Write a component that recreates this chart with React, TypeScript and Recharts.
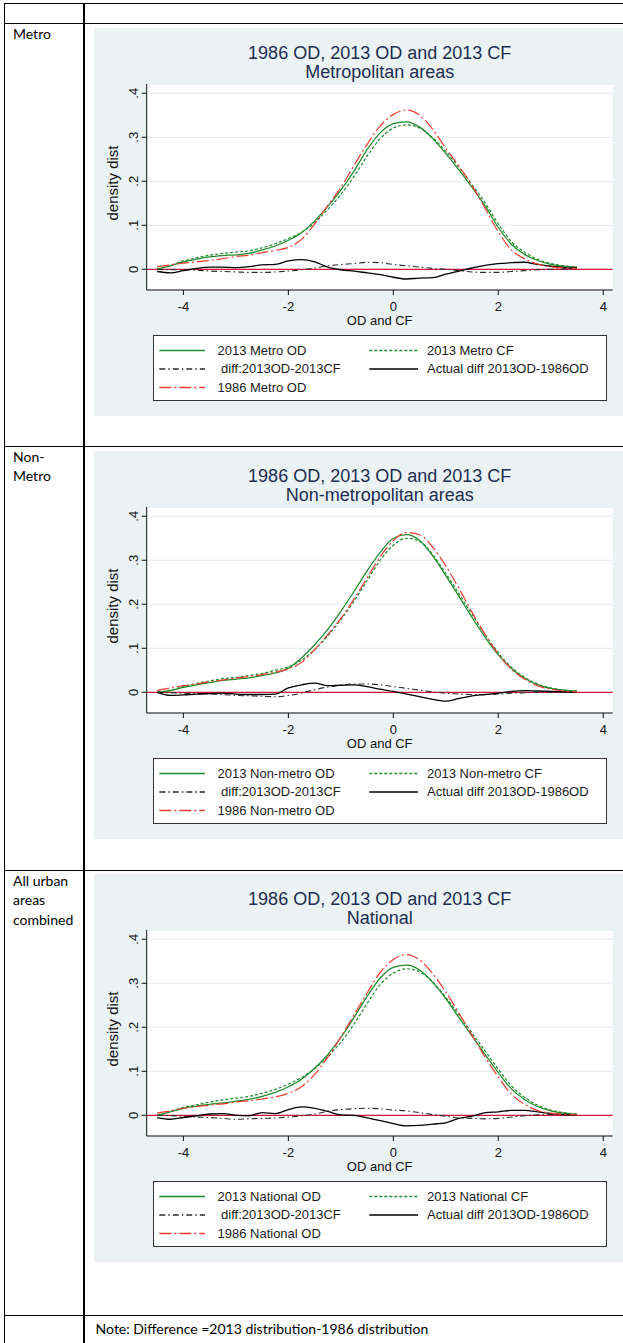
import React from 'react';
import { LineChart, Line, XAxis, YAxis, CartesianGrid, ReferenceLine } from 'recharts';

// ---------- data ----------
const xGrid = [-4.5, -4.25, -4, -3.75, -3.5, -3.25, -3, -2.75, -2.5, -2.25, -2, -1.75, -1.5, -1.25, -1, -0.75, -0.5, -0.25, 0, 0.25, 0.5, 0.75, 1, 1.25, 1.5, 1.75, 2, 2.25, 2.5, 2.75, 3, 3.25, 3.5];

const xTicks = [-4, -2, 0, 2, 4];
const yTicks = [0, 0.1, 0.2, 0.3, 0.4];

const metroOD = [0.001, 0.008, 0.017, 0.023, 0.028, 0.031, 0.033, 0.036, 0.044, 0.053, 0.066, 0.083, 0.110, 0.143, 0.180, 0.223, 0.272, 0.310, 0.331, 0.335, 0.323, 0.297, 0.263, 0.226, 0.186, 0.144, 0.095, 0.057, 0.034, 0.020, 0.011, 0.007, 0.005];
const metroCF = [0.000, 0.009, 0.019, 0.026, 0.032, 0.036, 0.039, 0.042, 0.049, 0.058, 0.070, 0.084, 0.106, 0.136, 0.170, 0.211, 0.257, 0.297, 0.321, 0.328, 0.321, 0.299, 0.268, 0.232, 0.192, 0.151, 0.103, 0.063, 0.039, 0.023, 0.013, 0.008, 0.005];
const metroDiffCF = [0.000, -0.001, -0.001, -0.002, -0.004, -0.005, -0.006, -0.007, -0.007, -0.006, -0.004, -0.001, 0.003, 0.008, 0.011, 0.013, 0.016, 0.015, 0.011, 0.008, 0.005, 0.002, 0.000, -0.003, -0.006, -0.007, -0.007, -0.005, -0.003, -0.001, 0.000, 0.001, 0.001];
const metroDiffActual = [-0.005, -0.008, -0.003, 0.002, 0.005, 0.005, 0.004, 0.006, 0.010, 0.011, 0.019, 0.022, 0.017, 0.005, -0.001, -0.004, -0.008, -0.012, -0.018, -0.022, -0.020, -0.019, -0.011, -0.004, 0.003, 0.009, 0.013, 0.015, 0.016, 0.011, 0.007, 0.004, 0.003];
const metro1986 = [0.006, 0.010, 0.014, 0.017, 0.020, 0.024, 0.029, 0.032, 0.038, 0.043, 0.050, 0.068, 0.103, 0.145, 0.186, 0.236, 0.284, 0.326, 0.352, 0.362, 0.350, 0.318, 0.275, 0.234, 0.190, 0.138, 0.085, 0.044, 0.024, 0.012, 0.006, 0.003, 0.002];

const nonOD = [0.000, 0.004, 0.011, 0.017, 0.022, 0.027, 0.030, 0.033, 0.038, 0.044, 0.055, 0.078, 0.108, 0.143, 0.184, 0.229, 0.276, 0.318, 0.350, 0.358, 0.345, 0.310, 0.265, 0.218, 0.170, 0.125, 0.085, 0.054, 0.032, 0.017, 0.009, 0.005, 0.003];
const nonCF = [0.000, 0.005, 0.013, 0.020, 0.026, 0.031, 0.034, 0.038, 0.043, 0.050, 0.058, 0.073, 0.097, 0.128, 0.165, 0.207, 0.254, 0.300, 0.334, 0.350, 0.343, 0.313, 0.270, 0.224, 0.177, 0.131, 0.090, 0.057, 0.034, 0.019, 0.010, 0.005, 0.003];
const nonDiffCF = [0.000, -0.001, -0.002, -0.003, -0.004, -0.005, -0.007, -0.008, -0.009, -0.010, -0.007, -0.002, 0.006, 0.012, 0.016, 0.019, 0.019, 0.017, 0.013, 0.009, 0.005, 0.001, -0.002, -0.004, -0.005, -0.005, -0.004, -0.002, -0.001, 0.000, 0.000, 0.000, 0.000];
const nonDiffActual = [0.000, -0.007, -0.006, -0.004, -0.003, -0.002, -0.004, -0.005, -0.005, -0.004, 0.010, 0.017, 0.021, 0.015, 0.016, 0.017, 0.013, 0.007, 0.002, -0.004, -0.010, -0.016, -0.020, -0.014, -0.008, -0.005, -0.002, 0.002, 0.004, 0.003, 0.002, 0.001, 0.000];
const non1986 = [0.004, 0.010, 0.015, 0.019, 0.024, 0.028, 0.032, 0.036, 0.040, 0.046, 0.053, 0.068, 0.097, 0.131, 0.168, 0.212, 0.260, 0.308, 0.345, 0.363, 0.358, 0.330, 0.287, 0.236, 0.182, 0.131, 0.087, 0.053, 0.030, 0.015, 0.007, 0.003, 0.001];

const natOD = [0.000, 0.008, 0.016, 0.021, 0.025, 0.028, 0.032, 0.036, 0.043, 0.052, 0.065, 0.082, 0.107, 0.138, 0.177, 0.222, 0.270, 0.312, 0.336, 0.341, 0.330, 0.302, 0.265, 0.222, 0.180, 0.138, 0.097, 0.060, 0.036, 0.020, 0.010, 0.005, 0.002];
const natCF = [0.000, 0.009, 0.018, 0.024, 0.030, 0.035, 0.039, 0.043, 0.050, 0.059, 0.071, 0.086, 0.106, 0.133, 0.166, 0.207, 0.254, 0.297, 0.323, 0.333, 0.326, 0.303, 0.268, 0.228, 0.187, 0.146, 0.105, 0.067, 0.041, 0.023, 0.012, 0.006, 0.003];
const natDiffCF = [0.000, -0.001, -0.002, -0.004, -0.005, -0.007, -0.009, -0.008, -0.007, -0.006, -0.004, -0.001, 0.003, 0.009, 0.013, 0.015, 0.016, 0.015, 0.012, 0.010, 0.006, 0.002, -0.002, -0.006, -0.007, -0.008, -0.007, -0.004, -0.001, 0.001, 0.002, 0.001, 0.001];
const natDiffActual = [-0.005, -0.009, -0.005, -0.001, 0.003, 0.004, 0.000, -0.001, 0.006, 0.004, 0.013, 0.019, 0.016, 0.009, 0.001, 0.000, -0.006, -0.012, -0.019, -0.024, -0.023, -0.020, -0.017, -0.007, -0.002, 0.006, 0.008, 0.011, 0.011, 0.008, 0.004, 0.002, 0.000];
const nat1986 = [0.005, 0.010, 0.016, 0.020, 0.023, 0.026, 0.030, 0.033, 0.037, 0.042, 0.050, 0.065, 0.093, 0.132, 0.178, 0.228, 0.278, 0.325, 0.354, 0.365, 0.353, 0.322, 0.280, 0.232, 0.182, 0.132, 0.087, 0.048, 0.025, 0.011, 0.005, 0.002, 0.001];

const titleText = '1986 OD, 2013 OD and 2013 CF';
const subtitles = ['Metropolitan areas', 'Non-metropolitan areas', 'National'];
const rowLabels = [['Metro'], ['Non-', 'Metro'], ['All urban', 'areas', 'combined']];
const legendMetro = ['2013 Metro OD', '2013 Metro CF', ' diff:2013OD-2013CF', 'Actual diff 2013OD-1986OD', '1986 Metro OD'];
const legendNon = ['2013 Non-metro OD', '2013 Non-metro CF', ' diff:2013OD-2013CF', 'Actual diff 2013OD-1986OD', '1986 Non-metro OD'];
const legendNat = ['2013 National OD', '2013 National CF', ' diff:2013OD-2013CF', 'Actual diff 2013OD-1986OD', '1986 National OD'];
const noteText = 'Note: Difference =2013 distribution-1986 distribution';
const yAxisTitle = 'density dist';
const xAxisTitle = 'OD and CF';

// ---------- styles ----------
const FONT = '"Liberation Sans", Arial, sans-serif';
const DOC_FONT = 'Lato, "Noto Sans", sans-serif';
const BG = '#EAF2F3';
const SERIES_KEYS = ['od', 'cf', 'dcf', 'dact', 'old'];
const SERIES_STYLE: Record<string, { stroke: string; dash?: string; w: number }> = {
  od: { stroke: '#1f8b2c', w: 1.25 },
  cf: { stroke: '#1f8b2c', dash: '3 2', w: 1.2 },
  dcf: { stroke: '#2a2a2a', dash: '6 3 1.5 3', w: 1.1 },
  dact: { stroke: '#000000', w: 1.3 },
  old: { stroke: '#ee3a30', dash: '12 3 2 3', w: 1.2 },
};

const makeRows = (od: number[], cf: number[], dcf: number[], dact: number[], old: number[]) =>
  xGrid.map((x, i) => ({ x, od: od[i], cf: cf[i], dcf: dcf[i], dact: dact[i], old: old[i] }));

const charts = [
  { top: 28, subtitle: subtitles[0], legend: legendMetro, data: makeRows(metroOD, metroCF, metroDiffCF, metroDiffActual, metro1986) },
  { top: 451, subtitle: subtitles[1], legend: legendNon, data: makeRows(nonOD, nonCF, nonDiffCF, nonDiffActual, non1986) },
  { top: 874, subtitle: subtitles[2], legend: legendNat, data: makeRows(natOD, natCF, natDiffCF, natDiffActual, nat1986) },
];

const PANEL_LEFT = 94;
const PANEL_W = 529;
const PANEL_H = 388;
const PLOT_LEFT = 52.7;
const PLOT_TOP = 56;
const PLOT_RIGHT_MARGIN = 10.3;
const PLOT_CX = 285.7;

const XTick = (props: any) => {
  const { x, y, payload } = props;
  return (
    <text x={x} y={y} dy={14} textAnchor="middle" fontSize={13} fontFamily={FONT} fill="#111">
      {String(payload.value)}
    </text>
  );
};

const YTick = (props: any) => {
  const { x, y, payload } = props;
  const v = payload.value;
  const label = v === 0 ? '0' : String(v).replace(/^0/, '').replace(/^-0/, '-');
  return (
    <text transform={`translate(${x - 6.7},${y}) rotate(-90)`} textAnchor="middle" dominantBaseline="central" fontSize={13} fontFamily={FONT} fill="#111">
      {label}
    </text>
  );
};

const legendPos = [
  { col: 0, row: 0 },
  { col: 1, row: 0 },
  { col: 0, row: 1 },
  { col: 1, row: 1 },
  { col: 0, row: 2 },
];
const LEG_ROWS = [15.5, 34, 52.5];
const LEG_SAMPLE = [[6.3, 52], [216.3, 265]];
const LEG_TEXT = [64.8, 274.3];

function LegendBox({ labels }: { labels: string[] }) {
  return (
    <div style={{ position: 'absolute', left: 58.7, top: 307.4, width: 454.7, height: 65.3, boxSizing: 'border-box', border: '1px solid #333', background: '#fff' }}>
      <svg width={454.7} height={65.3} style={{ position: 'absolute', left: -1, top: -1 }}>
        {SERIES_KEYS.map((k, i) => {
          const s = SERIES_STYLE[k];
          const p = legendPos[i];
          return (
            <line key={k} x1={LEG_SAMPLE[p.col][0]} x2={LEG_SAMPLE[p.col][1]} y1={LEG_ROWS[p.row]} y2={LEG_ROWS[p.row]} stroke={s.stroke} strokeWidth={s.w + 0.3} strokeDasharray={s.dash} />
          );
        })}
      </svg>
      {labels.map((t, i) => {
        const p = legendPos[i];
        return (
          <div key={i} style={{ position: 'absolute', left: LEG_TEXT[p.col] - 1, top: LEG_ROWS[p.row] - 1 - 9, height: 18, lineHeight: '18px', fontSize: 13, fontFamily: FONT, color: '#1a1a1a', whiteSpace: 'pre' }}>
            {t}
          </div>
        );
      })}
    </div>
  );
}

function Panel({ top, subtitle, legend, data }: any) {
  return (
    <div style={{ position: 'absolute', left: PANEL_LEFT, top, width: PANEL_W, height: PANEL_H, background: BG }}>
      <div style={{ position: 'absolute', left: PLOT_CX, top: 15.5, transform: 'translateX(-50%)', whiteSpace: 'nowrap', fontFamily: FONT, fontSize: 18, lineHeight: '19px', color: '#1e2d52', textAlign: 'center' }}>
        <div>{titleText}</div>
        <div>{subtitle}</div>
      </div>
      <div style={{ position: 'absolute', left: 18, top: 155, transform: 'translate(-50%,-50%) rotate(-90deg)', whiteSpace: 'nowrap', fontFamily: FONT, fontSize: 15, lineHeight: '17px', color: '#111' }}>
        {yAxisTitle}
      </div>
      <div style={{ position: 'absolute', left: PLOT_CX, top: 292.5 - 6.5, transform: 'translateX(-50%)', whiteSpace: 'nowrap', fontFamily: FONT, fontSize: 13, lineHeight: '13px', color: '#111' }}>
        {xAxisTitle}
      </div>
      <div style={{ position: 'absolute', left: 0, top: 0 }}>
        <LineChart width={PANEL_W} height={300} data={data} margin={{ top: PLOT_TOP, right: PLOT_RIGHT_MARGIN, bottom: 0, left: 0 }}>
          <CartesianGrid vertical={false} horizontal={true} fill="#ffffff" stroke="#e1eaec" strokeWidth={1} />
          <XAxis type="number" dataKey="x" domain={[-4.7, 4.18]} ticks={xTicks} interval={0} allowDataOverflow height={38} tickSize={5} axisLine={{ stroke: '#111' }} tickLine={{ stroke: '#111' }} tick={<XTick />} />
          <YAxis type="number" domain={[-0.047, 0.421]} ticks={yTicks} interval={0} allowDataOverflow width={PLOT_LEFT} tickSize={5} axisLine={{ stroke: '#111' }} tickLine={{ stroke: '#111' }} tick={<YTick />} />
          <ReferenceLine y={0} stroke="#d0153c" strokeWidth={1.2} />
          {SERIES_KEYS.map((k) => {
            const s = SERIES_STYLE[k];
            return (
              <Line key={k} type="monotone" dataKey={k} stroke={s.stroke} strokeWidth={s.w} strokeDasharray={s.dash} dot={false} activeDot={false} isAnimationActive={false} />
            );
          })}
        </LineChart>
      </div>
      <LegendBox labels={legend} />
    </div>
  );
}

const rowTops = [23, 446, 870];

export default function App() {
  return (
    <div style={{ position: 'absolute', left: 0, top: 0, width: 623, height: 1343, background: '#fff', overflow: 'hidden' }}>
      <div style={{ position: 'absolute', left: 4, top: 3, width: 619, height: 1, background: '#000' }} />
      <div style={{ position: 'absolute', left: 4, top: 3, width: 1, height: 1340, background: '#000' }} />
      <div style={{ position: 'absolute', left: 82.5, top: 3, width: 2, height: 1340, background: '#000' }} />
      {[...rowTops, 1315].map((t) => (
        <div key={t} style={{ position: 'absolute', left: 4, top: t, width: 619, height: 1, background: '#000' }} />
      ))}
      {rowLabels.map((lines, i) => (
        <div key={i} style={{ position: 'absolute', left: 13, top: rowTops[i] + 10.5 - 9.75, fontFamily: DOC_FONT, fontSize: 14, lineHeight: '19.5px', color: '#000' }}>
          {lines.map((l, j) => (
            <div key={j}>{l}</div>
          ))}
        </div>
      ))}
      {charts.map((c, i) => (
        <Panel key={i} {...c} />
      ))}
      <div style={{ position: 'absolute', left: 95.6, top: 1328.7 - 9, fontFamily: DOC_FONT, fontSize: 14, lineHeight: '18px', color: '#000', whiteSpace: 'nowrap' }}>
        {noteText}
      </div>
    </div>
  );
}
